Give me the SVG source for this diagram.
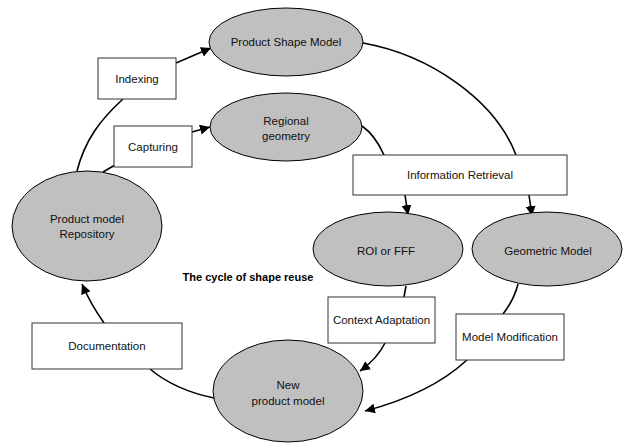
<svg xmlns="http://www.w3.org/2000/svg" width="627" height="444" viewBox="0 0 627 444">
<defs>
<marker id="ah" viewBox="0 0 10 10" refX="10" refY="5" markerWidth="10" markerHeight="10" markerUnits="userSpaceOnUse" orient="auto">
<path d="M0,0 L10,5 L0,10 Z" fill="#000"/>
</marker>
<style>
.el{fill:#c0c0c0;stroke:#000;stroke-width:1}
.bx{fill:#fff;stroke:#333;stroke-width:1}
.t{font-family:"Liberation Sans",Arial,sans-serif;font-size:11.5px;fill:#111;text-anchor:middle}
.b{font-family:"Liberation Sans",Arial,sans-serif;font-size:11px;font-weight:bold;fill:#000;text-anchor:middle}
.c{fill:none;stroke:#000;stroke-width:1.6}
.a{marker-end:url(#ah)}
</style>
</defs>
<rect width="627" height="444" fill="#fff"/>
<g id="connectors">
<path class="c" d="M77,171 C85,140 100,120 123,99"/>
<path class="c a" d="M176,63 L211,48"/>
<path class="c" d="M103,172 L115,165"/>
<path class="c a" d="M192,132 L210,127"/>
<path class="c" d="M363,43 C430,55 495,100 516,155"/>
<path class="c" d="M362,126 Q375,135 384,155"/>
<path class="c a" d="M405,195 L408,215"/>
<path class="c a" d="M529,195 L532,216"/>
<path class="c" d="M406,286 L404,297"/>
<path class="c" d="M518,284 Q514,300 503,314"/>
<path class="c a" d="M385,343 Q377,359 360,371"/>
<path class="c a" d="M467,360 Q430,394 365,411"/>
<path class="c" d="M214,398 Q175,390 150,369"/>
<path class="c a" d="M104,323 Q90,303 82,284"/>
</g>
<g id="product-shape-model">
<ellipse class="el" cx="286" cy="42" rx="77" ry="34"/>
<text class="t" x="286" y="46">Product Shape Model</text>
</g>
<g id="regional-geometry">
<ellipse class="el" cx="286" cy="127" rx="76" ry="34"/>
<text class="t" x="286" y="125">Regional</text>
<text class="t" x="286" y="140">geometry</text>
</g>
<g id="indexing">
<rect class="bx" x="98" y="58" width="78" height="41"/>
<text class="t" x="137" y="83">Indexing</text>
</g>
<g id="capturing">
<rect class="bx" x="114" y="126" width="78" height="41"/>
<text class="t" x="153" y="151">Capturing</text>
</g>
<g id="repository">
<ellipse class="el" cx="87" cy="226" rx="75" ry="55"/>
<text class="t" x="87" y="223">Product model</text>
<text class="t" x="87" y="238">Repository</text>
</g>
<g id="information-retrieval">
<rect class="bx" x="353" y="155" width="214" height="40"/>
<text class="t" x="460" y="179">Information Retrieval</text>
</g>
<g id="roi">
<ellipse class="el" cx="388" cy="249" rx="75" ry="37"/>
<text class="t" x="386" y="255">ROI or FFF</text>
</g>
<g id="geometric-model">
<ellipse class="el" cx="547" cy="249" rx="75" ry="37"/>
<text class="t" x="548" y="255">Geometric Model</text>
</g>
<g id="caption">
<text class="b" x="248" y="281">The cycle of shape reuse</text>
</g>
<g id="context-adaptation">
<rect class="bx" x="328" y="297" width="107" height="46"/>
<text class="t" x="381.5" y="324">Context Adaptation</text>
</g>
<g id="model-modification">
<rect class="bx" x="456" y="314" width="108" height="46"/>
<text class="t" x="510" y="341">Model Modification</text>
</g>
<g id="documentation">
<rect class="bx" x="32" y="323" width="150" height="46"/>
<text class="t" x="107" y="350">Documentation</text>
</g>
<g id="new-product-model">
<ellipse class="el" cx="288" cy="391" rx="75" ry="51"/>
<text class="t" x="288" y="389">New</text>
<text class="t" x="288" y="405">product model</text>
</g>
</svg>
